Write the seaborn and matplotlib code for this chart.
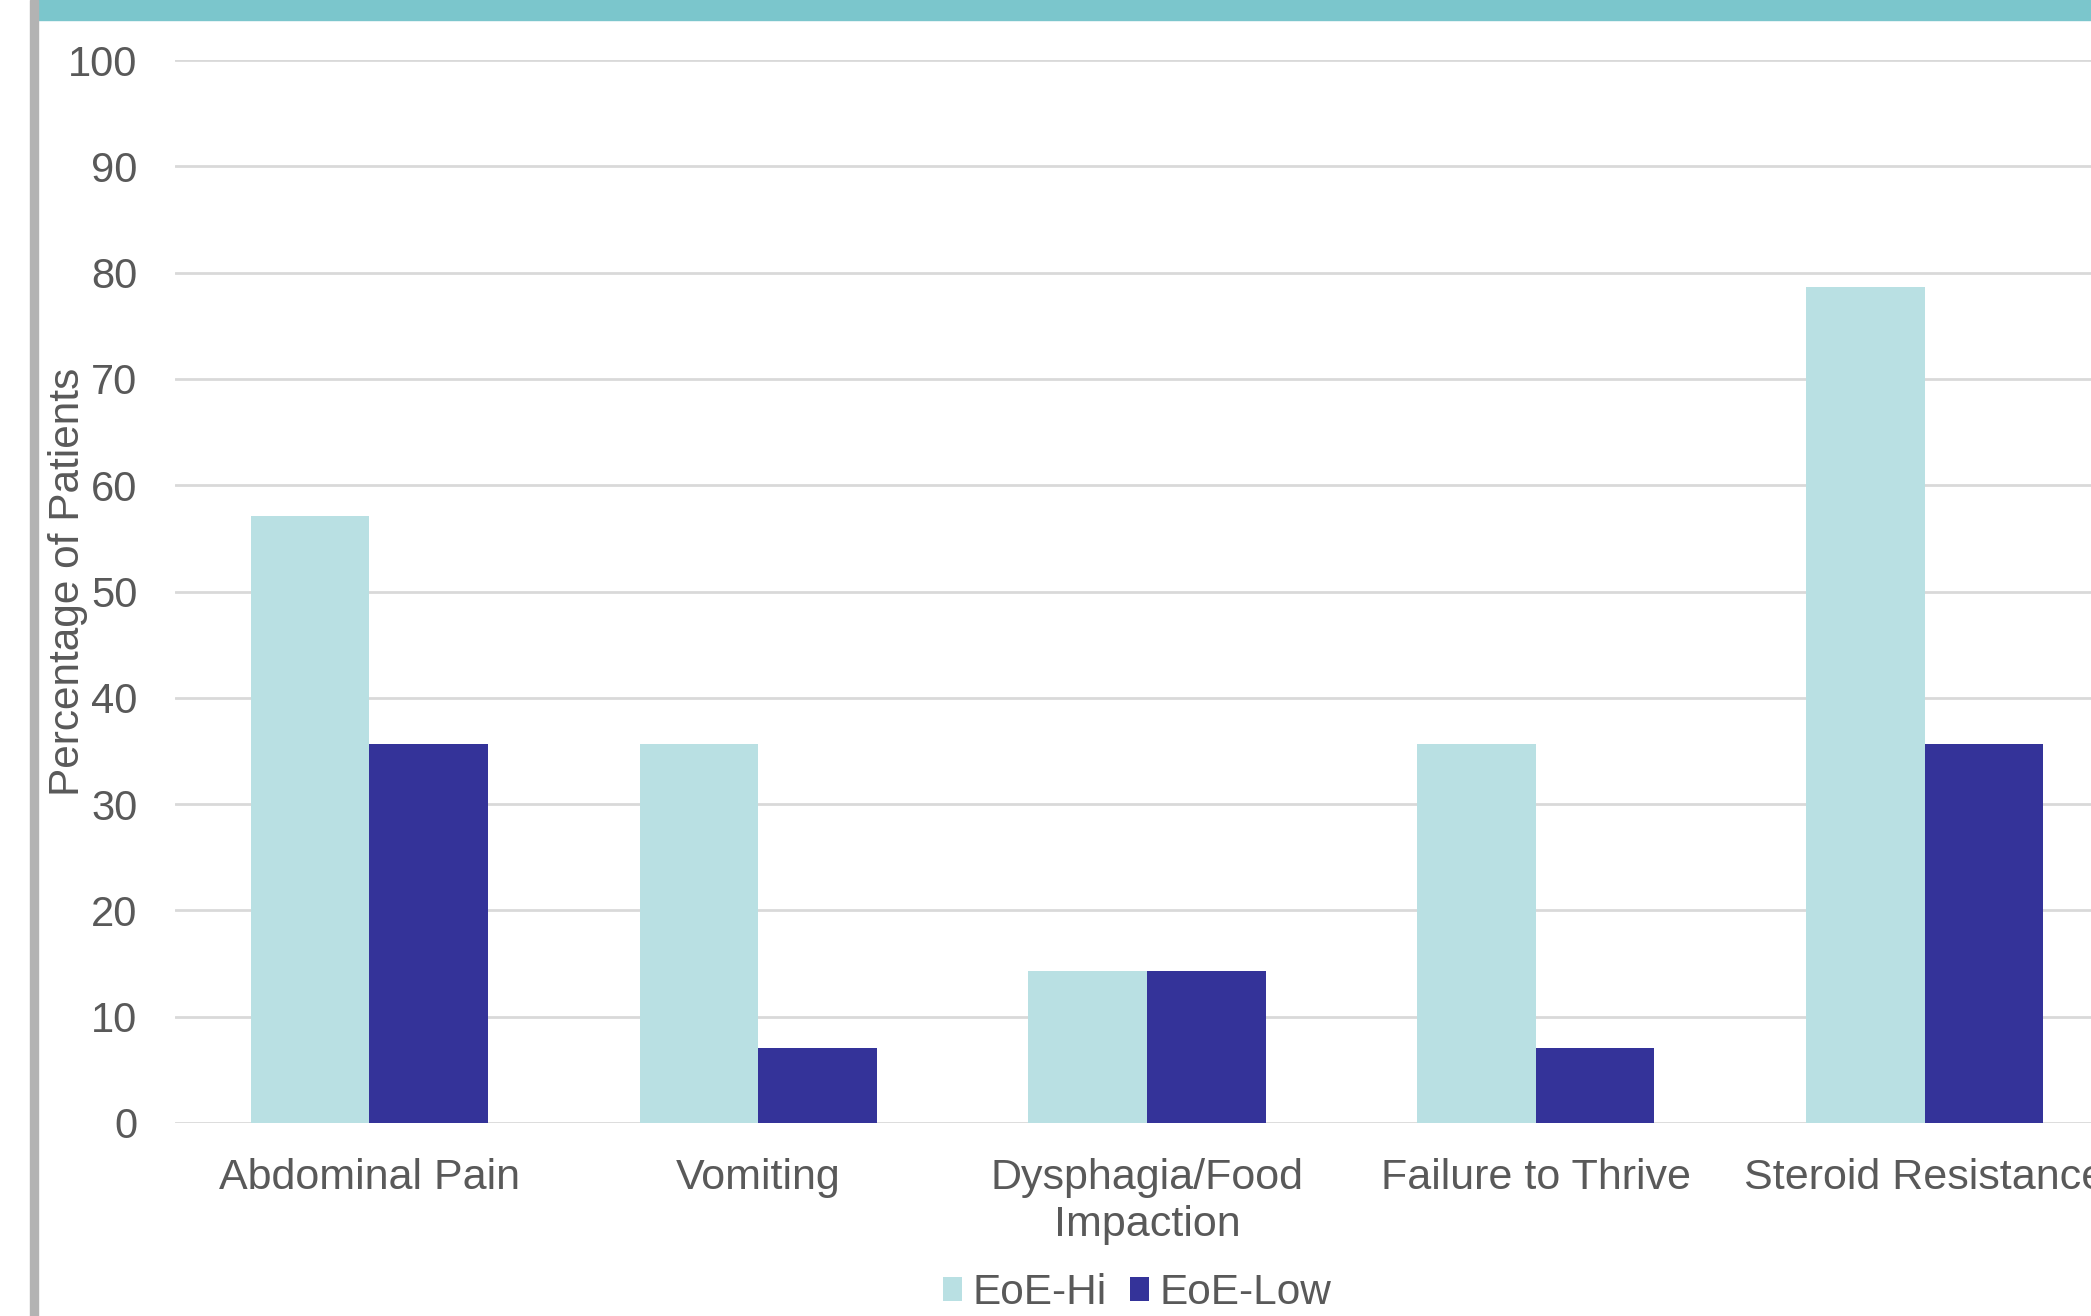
import pandas as pd
import matplotlib.pyplot as plt
import matplotlib.patches as mpatches
import seaborn as sns

# Chart data (percent of patients)
symptoms = ['Abdominal Pain', 'Vomiting', 'Dysphagia/Food\nImpaction', 'Failure to Thrive', 'Steroid Resistance']
eoe_hi = [57.1, 35.7, 14.3, 35.7, 78.6]
eoe_low = [35.7, 7.1, 14.3, 7.1, 35.7]
groups = ['EoE-Hi', 'EoE-Low']
y_ticks = [0, 10, 20, 30, 40, 50, 60, 70, 80, 90, 100]

df = pd.DataFrame({
    'Symptom': symptoms * 2,
    'Group': [groups[0]] * len(symptoms) + [groups[1]] * len(symptoms),
    'Percent': eoe_hi + eoe_low,
})

text_color = '#595959'
palette = {'EoE-Hi': '#B9E0E3', 'EoE-Low': '#343399'}

sns.set_style('white')
plt.rcParams['font.family'] = ['Liberation Sans', 'DejaVu Sans']

W, H = 2091, 1316
fig = plt.figure(figsize=(W / 100, H / 100), dpi=100)

# axes extends past the right edge, like the cropped original
left, right, top, bottom = 175, 2119, 60, 1123
ax = fig.add_axes([left / W, 1 - bottom / H, (right - left) / W, (bottom - top) / H])

sns.barplot(data=df, x='Symptom', y='Percent', hue='Group', palette=palette,
            width=0.61, gap=0, saturation=1, edgecolor='none', ax=ax)

ax.set_ylim(0, 100)
ax.set_yticks(y_ticks)
ax.set_xlim(-0.5, len(symptoms) - 0.5)
ax.yaxis.grid(True, color='#D9D9D9', linewidth=2)
ax.set_axisbelow(True)
for s in ax.spines.values():
    s.set_visible(False)

ax.tick_params(axis='y', length=0, pad=27, labelsize=30, labelcolor=text_color)
ax.tick_params(axis='x', length=0, pad=25, labelsize=31, labelcolor=text_color)
for t in ax.get_xticklabels():
    t.set_linespacing(1.25)

ax.set_xlabel('')
ax.set_ylabel('Percentage of Patients', fontsize=30.5, color=text_color)
ax.yaxis.set_label_coords(-0.045, 0.509)

handles, labels = ax.get_legend_handles_labels()
ax.legend(handles, labels, loc='center', bbox_to_anchor=(1137 / W, 1 - 1293 / H),
          bbox_transform=fig.transFigure, ncol=2, frameon=False, fontsize=30.5,
          labelcolor=text_color, handlelength=0.45, handleheight=0.52,
          handletextpad=0.25, columnspacing=0.55, borderaxespad=0, borderpad=0)

# decorative frame: teal band on top, grey bar on the left
fig.patches.append(mpatches.Rectangle((38 / W, 1 - 20 / H), 1, 20 / H,
                                      transform=fig.transFigure, color='#7BC6CC', zorder=0))
fig.patches.append(mpatches.Rectangle((30 / W, 0), 8 / W, 1,
                                      transform=fig.transFigure, color='#B3B3B3', zorder=0))

fig.savefig('out.png', dpi=100)
